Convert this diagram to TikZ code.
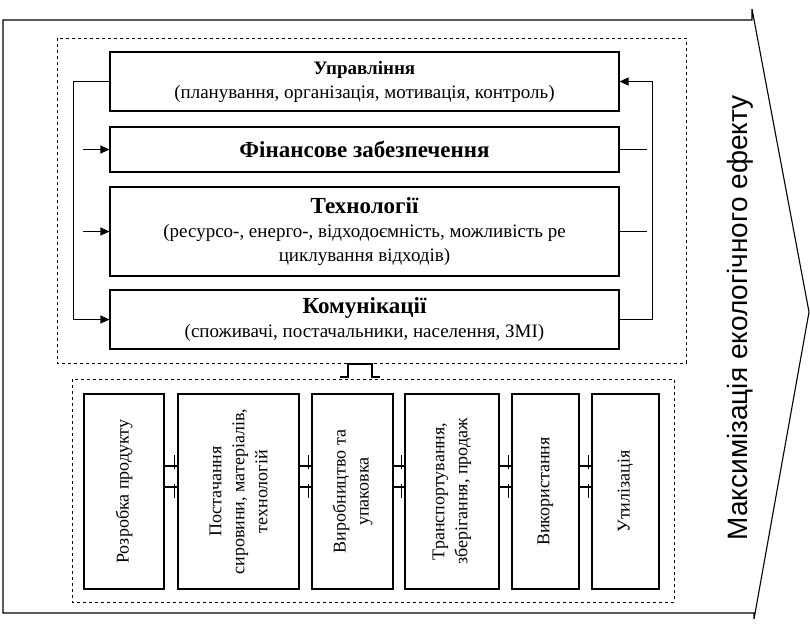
\documentclass[tikz,border=0pt]{standalone}
\usepackage{fontspec}
\setmainfont{Liberation Serif}
\newfontfamily\arialfont{Liberation Sans}
\usetikzlibrary{calc,arrows.meta}

\begin{document}
\begin{tikzpicture}[x=1pt,y=-1pt,
    block/.style={draw,line width=1.1pt,fill=white,inner sep=0pt,align=center,font=\fontsize{19}{24}\selectfont},
    stage/.style={block,rotate=90,minimum width=195pt,font=\fontsize{18}{23}\selectfont},
    frame/.style={draw,dashed,line width=1pt},
    link/.style={line width=1.1pt},
    tip/.style={-{Triangle[length=9pt,width=8pt]}}]
  \useasboundingbox (0,0) rectangle (810,625);

  % outer arrow
  \draw[link] (752,20) -- (3,20) -- (3,613) -- (754,613) -- (754,619) -- (809,312) -- (752,9) -- cycle;
  \node[rotate=90,font=\arialfont\fontsize{28}{32}\selectfont] (goal) at (740,318) {Максимізація екологічного ефекту};

  % frames
  \draw[frame] (57,38) rectangle (686,363);
  \draw[frame] (72,379) rectangle (674,602);

  % functions
  \node[block,minimum width=509pt,minimum height=59pt] (upr) at (364.5,81.5)
    {{\bfseries\fontsize{19}{24}\selectfont Управління}\\(планування, організація, мотивація, контроль)};
  \node[block,minimum width=509pt,minimum height=45pt] (fin) at (364.5,149.5)
    {\bfseries\fontsize{23}{26}\selectfont Фінансове забезпечення};
  \node[block,minimum width=509pt,minimum height=89pt] (tech) at (364.5,231.5)
    {{\bfseries\fontsize{23}{26}\selectfont Технології}\\(ресурсо-, енерго-, відходоємність, можливість ре\\циклування відходів)};
  \node[block,minimum width=509pt,minimum height=59pt] (kom) at (364.5,319.5)
    {{\bfseries\fontsize{23}{26}\selectfont Комунікації}\\(споживачі, постачальники, населення, ЗМІ)};

  \coordinate (finin) at ($(fin.west)+(-26,0)$);
  \coordinate (techin) at ($(tech.west)+(-26,0)$);
  \coordinate (finout) at ($(fin.east)+(27,0)$);
  \coordinate (techout) at ($(tech.east)+(27,0)$);
  \draw[link,tip] (upr.west) -- ++(-36,0) |- (kom.west);
  \draw[link,tip] (finin) -- (fin.west);
  \draw[link,tip] (techin) -- (tech.west);
  \draw[link] (fin.east) -- (finout);
  \draw[link] (tech.east) -- (techout);
  \draw[link,tip] (kom.east) -- ++(33,0) |- (upr.east);

  % link between frames
  \draw[link] (340,377) -- (348,377) -- (348,364) -- (372,364) -- (372,377) -- (380,377);

  % life cycle
  \node[stage,minimum height=80pt] (p1) at (124,491.5) {Розробка продукту};
  \node[stage,minimum height=121pt] (p2) at (238.5,491.5) {Постачання\\сировини, матеріалів,\\технологій};
  \node[stage,minimum height=81pt] (p3) at (352.5,491.5) {Виробництво та\\упаковка};
  \node[stage,minimum height=94pt] (p4) at (452,491.5) {Транспортування,\\зберігання, продаж};
  \node[stage,minimum height=67pt] (p5) at (545.5,491.5) {Використання};
  \node[stage,minimum height=67pt] (p6) at (625.5,491.5) {Утилізація};

  \foreach \a/\b in {p1/p2,p2/p3,p3/p4,p4/p5,p5/p6}{
    \draw[link] (\a.south |- 0,466) -- (\b.north |- 0,466);
    \draw[link] (\a.south |- 0,487) -- (\b.north |- 0,487);
    \draw[line width=1.6pt] ($(\b.north |- 0,455)+(-3,0)$) -- ++(0,14);
    \draw[line width=1.6pt] ($(\b.north |- 0,484)+(-3,0)$) -- ++(0,14);
  }
\end{tikzpicture}
\end{document}
